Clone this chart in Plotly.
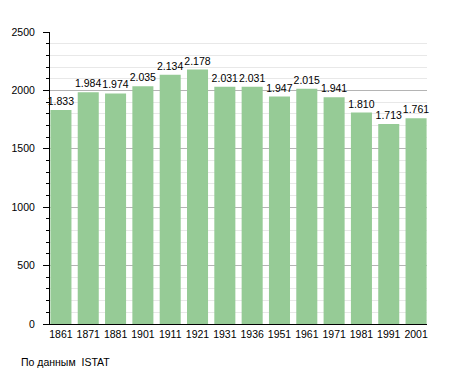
import plotly.graph_objects as go

years = ["1861", "1871", "1881", "1901", "1911", "1921", "1931", "1936",
         "1951", "1961", "1971", "1981", "1991", "2001"]
population = [1833, 1984, 1974, 2035, 2134, 2178, 2031, 2031,
              1947, 2015, 1941, 1810, 1713, 1761]
labels = [f"{v:,}".replace(",", ".") for v in population]

FONT = "Liberation Sans, Arial, sans-serif"

fig = go.Figure()
fig.add_trace(go.Bar(
    x=list(range(len(years))), y=population,
    marker=dict(color="#96cb96", line=dict(width=0)),
    text=labels, textposition="outside", constraintext="none",
    textfont=dict(family=FONT, size=10.5, color="black"),
    cliponaxis=False,
))

fig.update_layout(
    width=455, height=373,
    margin=dict(l=50, r=28, t=32, b=49),
    paper_bgcolor="white", plot_bgcolor="white",
    showlegend=False, bargap=0.23,
    font=dict(family=FONT, size=10.5, color="black"),
    xaxis=dict(
        range=[-0.4, 13.4], tickmode="array",
        tickvals=list(range(len(years))), ticktext=years,
        showgrid=False, zeroline=False,
        showline=True, linecolor="black", linewidth=1,
        ticks="", tickfont=dict(size=10.5), ticklabelstandoff=0,
    ),
    yaxis=dict(
        range=[0, 2500], tickmode="linear", tick0=0, dtick=500,
        showgrid=True, gridcolor="#b4b4b4", gridwidth=1,
        zeroline=False, showline=True, linecolor="black", linewidth=1,
        ticks="outside", ticklen=6, tickcolor="black",
        tickfont=dict(size=10.5), ticklabelstandoff=6,
        minor=dict(dtick=100, showgrid=True, gridcolor="#e8e8e8",
                   ticks="outside", ticklen=3, tickcolor="black"),
    ),
    annotations=[dict(
        text="По данным  ISTAT", xref="paper", yref="paper",
        x=-31/377, y=-38/292, xanchor="left", yanchor="middle",
        showarrow=False, font=dict(size=10.5, color="black"),
    )],
)

fig.write_html(
    "out.html",
    config={"displayModeBar": False},
    post_script="document.body.style.margin='0';document.body.style.padding='0';",
)
